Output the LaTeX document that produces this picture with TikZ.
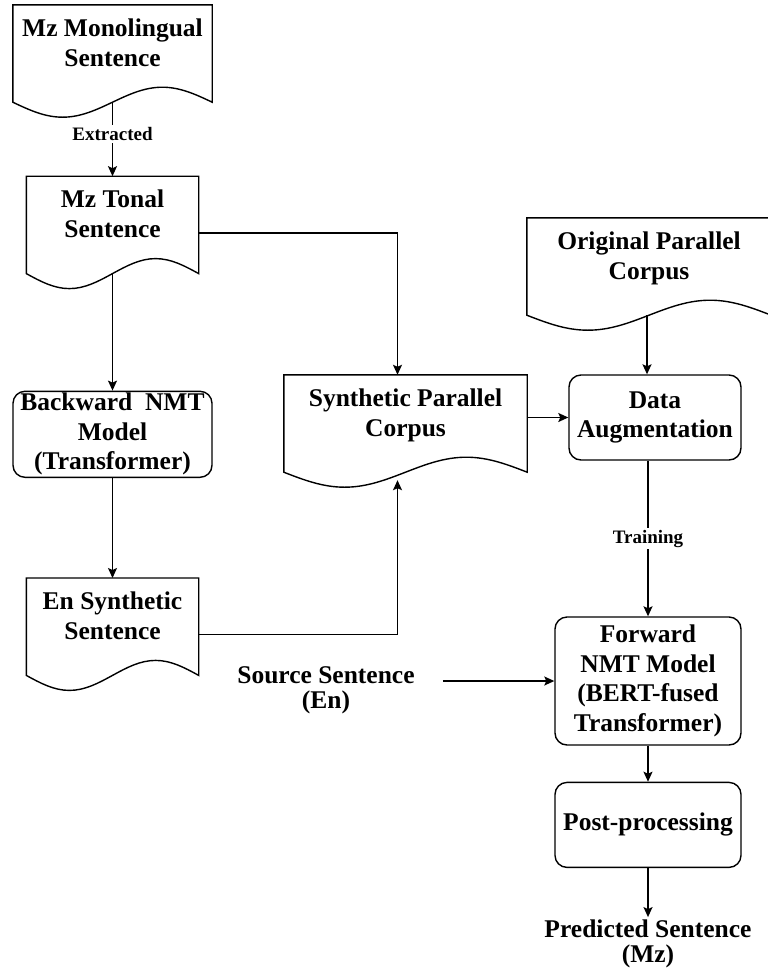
\documentclass[tikz,border=0pt]{standalone}
\usepackage{fontspec}
\setmainfont{Liberation Serif}
\usepackage{tikz}
\usetikzlibrary{arrows.meta,positioning,calc}

% document shape: straight top and sides, wavy bottom
\newcommand{\docframe}[1]{%
  \draw[docline] let \p1=(#1.south west), \p2=(#1.north east), \n1={0.25*(\x2-\x1)} in
    (\p1) -- (\x1,\y2) -- (\p2) -- (\x2,\y1)
    sin (\x2-\n1,\y1+15pt) cos (\x2-2*\n1,\y1) sin (\x1+\n1,\y1-15pt) cos (\p1) -- cycle;}

\begin{document}
\begin{tikzpicture}[
  x=1pt,y=-1pt,
  docline/.style={line width=1.4pt},
  doc/.style={inner sep=0pt,minimum height=97pt,text height=47pt,text depth=22pt,align=center,font=\fontsize{25.5}{29.5}\selectfont\bfseries},
  rbox/.style={draw,line width=1.4pt,rounded corners=12pt,inner sep=0pt,align=center,font=\fontsize{25.5}{29.5}\selectfont\bfseries},
  txt/.style={inner sep=2pt,align=center,font=\fontsize{25.5}{25}\selectfont\bfseries},
  lbl/.style={fill=white,inner sep=2pt,font=\fontsize{19}{22}\selectfont\bfseries},
  arr/.style={-{Stealth[length=10pt,width=9pt,inset=2pt]},line width=1.4pt}
]
\useasboundingbox (0,0) rectangle (768,978);

% left column
\node[doc,minimum width=199pt] (mono) at (112.5,53.5) {Mz Monolingual\\Sentence};
\node[doc,minimum width=172pt,below=74pt of mono] (tonal) {Mz Tonal\\Sentence};
\node[rbox,minimum width=199pt,minimum height=86pt,below=117pt of tonal] (back) {Backward~ NMT\\Model\\(Transformer)};
\node[doc,minimum width=172pt,below=100pt of back] (ensyn) {En Synthetic\\Sentence};

% middle
\node[doc,minimum width=243pt] (synpar) at (405.5,423.5) {Synthetic Parallel\\Corpus};
\node[txt] (src) at (326,690) {Source Sentence\\(En)};

% right column
\node[doc,minimum width=244pt] (orig) at (649,266.5) {Original Parallel\\Corpus};
\node[rbox,minimum width=172pt,minimum height=85pt] (aug) at (655,417.5) {Data\\Augmentation};
\node[rbox,minimum width=186pt,minimum height=128pt] (fwd) at (648,681) {Forward\\NMT Model\\(BERT-fused\\Transformer)};
\node[rbox,minimum width=186pt,minimum height=85pt,below=36pt of fwd] (post) {Post-processing};
\node[txt,below=49pt of post] (pred) {Predicted Sentence\\(Mz)};

\foreach \d in {mono,tonal,ensyn,synpar,orig} {\docframe{\d}}

% connectors
\draw[arr] (mono.south) -- node[lbl,pos=0.43] {Extracted} (tonal.north);
\draw[arr] (tonal.south) -- (back.north);
\draw[arr] (back.south) -- (ensyn.north);
\draw[arr] ([yshift=-8pt]tonal.east) -| ([xshift=-8pt]synpar.north);
\draw[arr] ([yshift=-8pt]ensyn.east) -| ([xshift=-8pt,yshift=-8pt]synpar.south);
\draw[arr] (synpar.east |- aug.west) -- (aug.west);
\draw[arr] ([xshift=-2pt]orig.south) -- ([xshift=-2pt]orig.south |- aug.north);
\draw[arr] (aug.south -| fwd.north) -- node[lbl] {Training} (fwd.north);
\draw[arr] ([xshift=26pt]src.east |- fwd.west) -- (fwd.west);
\draw[arr] (fwd.south) -- (post.north);
\draw[arr] (post.south) -- (pred.north);
\end{tikzpicture}
\end{document}
